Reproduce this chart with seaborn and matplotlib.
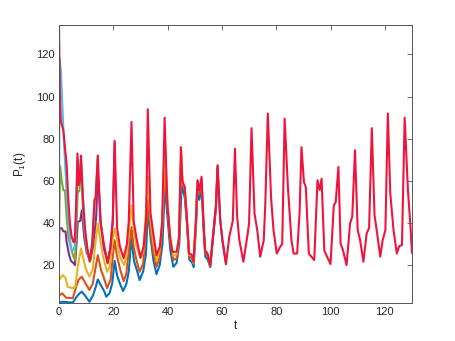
import pandas as pd
import matplotlib
matplotlib.use("Agg")
import matplotlib.pyplot as plt
import seaborn as sns

# ── Data ─────────────────────────────────────────────────────────────────────
red_t = [0, 0.35, 0.7, 1.6, 2.8, 3.4, 4.0, 4.6, 5.3, 5.8, 6.3, 6.8, 7.3, 7.7, 8.1,
         8.8, 9.5, 10.4, 11.3, 12.2, 13.1, 13.5, 14.3, 15.2, 16.4, 17.9, 18.9,
         19.8, 20.5, 21.4, 22.4, 23.8, 25.0, 25.7, 26.7, 27.5, 28.5, 30.0, 31.2,
         32.1, 32.7, 33.7, 34.9, 35.9, 37.2, 38.0, 38.9, 39.9, 40.9, 41.7, 43.3,
         44.2, 44.9, 45.4, 46.3, 47.0, 47.9, 48.8, 49.5, 50.4, 51.0, 51.7, 52.5,
         53.2, 53.8, 54.7, 55.7, 56.9, 57.8, 58.4, 59.4, 60.2, 61.5, 62.7, 64.0,
         64.8, 65.6, 66.4, 67.9, 69.5, 70.0, 70.9, 72.0, 73.0, 74.1, 75.4, 76.0,
         76.9, 78.1, 79.0, 80.2, 81.6, 82.2, 83.1, 84.3, 85.6, 86.4, 87.7, 88.6,
         89.3, 90.2, 90.9, 92.0, 92.6, 94.0, 95.2, 96.0, 96.7, 97.7, 98.7, 100.0,
         101.2, 101.9, 102.9, 103.7, 104.6, 105.9, 107.2, 108.0, 109.0, 110.0,
         110.9, 112.1, 113.3, 114.2, 115.2, 116.2, 117.0, 118.3, 119.2, 120.2,
         121.1, 122.0, 123.2, 124.4, 125.3, 126.3, 127.3, 128.5, 129.4, 130.0]
red_p = [134, 100, 88, 84, 68, 52, 40, 34, 31, 31, 48, 73, 58, 60, 72,
         52, 38, 28, 22, 30, 51, 52, 72, 41, 31, 20.8, 28,
         41, 79, 37.5, 29, 23.2, 30, 41, 88, 41, 33, 23.6, 29,
         43, 94, 44.6, 33.4, 24.7, 29, 41, 90, 49, 33.4, 26.3, 26.3,
         33, 76, 60, 57, 44.5, 25.5, 25, 21.6, 41, 60.3, 55.5, 62,
         41, 27, 25.5, 20, 36.6, 48.4, 67.4, 41, 31.8, 20.5, 33.4, 41,
         75.3, 43, 32, 21.6, 35, 40, 85, 44.5, 36.6, 24, 31.8, 50,
         92, 52, 36.6, 25.5, 29, 30, 89.5, 57, 31.8, 25.5, 25.5, 45,
         76, 59.5, 57, 25.5, 24.5, 22.4, 60.3, 55.7, 61, 27, 24, 20.5,
         48.4, 49.8, 66.6, 30.3, 27, 20, 39.8, 43, 74.5, 36.6,
         31.8, 21.6, 35, 37.6, 85, 43.7, 36.6, 24, 31.8, 36.6,
         92, 54, 36.6, 25.5, 29, 29.5, 90, 55.5, 39, 25.7]

blue_t = [0, 1.5, 3.0, 5.1, 6.5, 7.6, 8.4, 9.6, 11.2, 12.5, 13.5, 14.3, 15.4, 16.5,
          17.4, 18.6, 19.6, 20.5, 21.4, 22.5, 23.6, 24.8, 25.7, 26.7, 27.6, 28.6,
          29.7, 31.0, 32.0, 32.8, 33.8, 34.8, 35.9, 37.1, 38.1, 39.0, 40.0, 41.0,
          42.1, 43.3, 44.3, 45.2, 46.3, 47.1, 48.0, 48.9, 49.6, 50.4, 51.0, 51.7,
          52.5, 53.2, 53.9, 54.8, 55.7, 56.9, 57.8, 58.4, 59.4, 60.2, 61.5]
blue_p = [2.3, 2.6, 2.4, 2.2, 5, 6.6, 7.4, 5.5, 2.6, 5.5, 9.5, 13.2, 10.5, 8,
          5, 6.6, 11.3, 22, 15, 11, 7.7, 11, 17, 33.4, 22, 18,
          12.9, 17, 25, 46.9, 32, 22, 15.7, 20, 30, 57.9, 42, 27,
          19.2, 21, 30, 58.7, 52, 40, 22.5, 21.5, 19, 37, 54, 51,
          57, 38, 24, 22.5, 19, 35, 47, 66, 41, 31.5, 20.5]

orange_t = [0, 1.2, 2.6, 5.1, 6.3, 7.2, 8.4, 9.9, 11.2, 12.4, 13.3, 14.3, 15.5,
            16.4, 17.7, 19.0, 19.8, 20.5, 21.4, 22.6, 23.8, 24.8, 25.7, 26.7, 27.5,
            28.5, 29.7, 31.0, 31.8, 32.8, 33.7, 34.7, 35.9, 37.2, 38.0, 39.0, 39.9,
            40.9, 42.1, 43.3, 44.2, 45.0, 45.5, 46.3, 47.0, 47.9, 48.8, 49.5, 50.4,
            51.0, 51.7, 52.5, 53.2, 53.8, 54.7, 55.7, 56.9, 57.8, 58.4]
orange_p = [5.5, 6.6, 4.5, 4.3, 9.7, 13, 14.5, 11, 8.2, 11, 17.6, 24.7, 17.6,
            14.5, 9, 13, 24, 31.8, 24, 17.6, 12.4, 16, 27, 38, 28.5,
            22.5, 16.8, 20.8, 33.4, 50.8, 36.6, 26.3, 19.2, 24, 38, 65, 49,
            31.8, 22.4, 23.2, 33.4, 71, 58, 56, 43, 24, 23.5, 20.8, 40,
            58, 54, 60.5, 40, 26, 24.5, 19.5, 36, 48, 67]

yellow_t = [0, 1.4, 2.4, 3.2, 5.1, 6.0, 6.9, 8.1, 8.8, 9.8, 11.2, 12.5, 13.3, 14.3,
            15.2, 16.2, 17.7, 18.7, 19.6, 20.5, 21.4, 22.4, 24.0, 24.8, 25.7, 26.7,
            27.5, 28.5, 30.0, 31.0, 31.6, 32.8, 33.7, 34.7, 35.9, 37.0, 38.0, 39.0,
            40.0, 41.0, 42.1, 43.3, 44.2, 45.0, 45.5, 46.3, 47.0, 47.9, 48.8, 49.5,
            50.4, 51.0]
yellow_p = [12.9, 15.3, 14, 9.7, 9, 9.7, 19.2, 27.9, 24, 18.4, 14.5, 18.4, 29.5, 39.8,
            31.8, 24, 16.8, 19.2, 30.3, 37.4, 32, 24, 20, 24, 35, 48.4,
            37, 29, 23.2, 26.3, 36.6, 62, 42, 31, 22, 27, 40, 78,
            49, 33, 24.5, 25, 33, 75, 59.5, 57, 44, 25, 24.5, 21.2,
            40.5, 60]

purple_t = [0, 0.15, 1.0, 1.6, 2.4, 2.8, 3.7, 4.4, 5.3, 5.9, 6.5, 6.9, 7.8, 8.4,
            9.3, 10.2, 11.5, 12.4, 13.1, 13.7, 14.3, 15.4, 16.5, 17.9, 18.9, 19.8,
            20.5]
purple_p = [24, 37.5, 37.5, 36, 36, 31, 25, 22, 21, 20, 31, 40.5, 41, 46,
            33, 26, 22, 28, 35.8, 43, 65, 40, 28, 21.5, 28, 41,
            78]

green_t = [0, 0.4, 1.0, 1.6, 2.2, 2.8, 3.5, 4.3, 5.3, 5.9, 6.5, 6.9, 7.5, 8.1,
           9.0, 10.0, 11.3, 12.3, 13.1, 13.5, 14.3]
green_p = [33, 67, 60, 55.5, 55.5, 43, 33, 28.7, 24, 22.4, 41, 55, 55, 68,
           41, 29, 21.5, 30, 51, 52, 72]

cyan_t = [0, 0.25, 0.7, 1.9, 2.6, 3.3, 4.4, 5.2, 5.8, 6.4, 6.9, 7.4, 8.1, 9.0,
          9.8, 10.7, 11.3]
cyan_p = [49, 118, 112, 76, 60, 44, 28, 27, 29, 50, 70, 62, 70, 48,
          34, 26, 22.5]

runs = ["blue", "orange", "yellow", "purple", "green", "cyan", "red"]
colors = {
    "blue": "#0072BD",
    "orange": "#D95319",
    "yellow": "#EDB120",
    "purple": "#7E2F8E",
    "green": "#77AC30",
    "cyan": "#4DBEEE",
    "red": "#F0143C",
}
series = {
    "blue": (blue_t, blue_p),
    "orange": (orange_t, orange_p),
    "yellow": (yellow_t, yellow_p),
    "purple": (purple_t, purple_p),
    "green": (green_t, green_p),
    "cyan": (cyan_t, cyan_p),
    "red": (red_t, red_p),
}

df = pd.concat(
    [pd.DataFrame({"run": name, "t": series[name][0], "P": series[name][1]})
     for name in runs],
    ignore_index=True,
)

# ── Style ─────────────────────────────────────────────────────────────────────
sns.set_theme(style="white")
plt.rcParams["font.family"] = ["Liberation Sans", "DejaVu Sans"]
plt.rcParams["mathtext.fontset"] = "custom"
plt.rcParams["mathtext.rm"] = "Liberation Sans"
plt.rcParams["mathtext.it"] = "Liberation Sans:italic"

fig = plt.figure(figsize=(4.55, 3.41), dpi=100)
ax = fig.add_axes([59 / 455, 1 - 303 / 341, (412 - 59) / 455, (303 - 25) / 341])

sns.lineplot(data=df, x="t", y="P", hue="run", hue_order=runs, palette=colors,
             estimator=None, sort=False, linewidth=1.5, legend=False, ax=ax)

ax.set_xlim(0, 130)
ax.set_ylim(2, 134)
ax.set_xticks(range(0, 121, 20))
ax.set_yticks(range(20, 121, 20))
ax.set_xlabel("t", fontsize=8.5, color="#262626", labelpad=2)
ax.set_ylabel("P$_1$(t)", fontsize=8.5, color="#262626", labelpad=6)

for side in ax.spines.values():
    side.set_color("#555555")
    side.set_linewidth(0.7)
ax.tick_params(direction="in", top=True, right=True, length=3.5, width=0.6,
               color="#555555", labelcolor="#262626", labelsize=8, pad=3)

fig.savefig("out.png", dpi=100)
